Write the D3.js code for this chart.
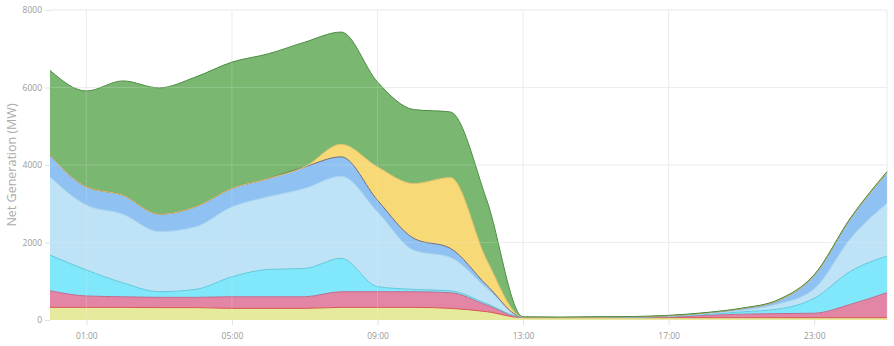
<!DOCTYPE html>
<html><head><meta charset="utf-8">
<script src="https://cdn.jsdelivr.net/npm/d3@7/dist/d3.min.js"></script>
<style>body{margin:0;background:#fff} svg{display:block}</style>
</head><body><svg id="c" width="894" height="346"></svg>
<script>
// Hours of the day (x values)
const hours = [0,1,2,3,4,5,6,7,8,9,10,11,12,13,14,15,16,17,18,19,20,21,22,23];
// Series values (MW), bottom to top
const seriesNames = ["base","pink","cyan","lightblue","midblue","solar","green"];
const base      = [326,326,326,320,320,300,300,300,326,326,326,300,215,60,60,60,60,60,60,60,60,60,60,60];
const pink      = [429,294,274,265,265,300,300,300,404,404,404,405,170,10,5,5,10,20,60,90,105,115,345,645];
const cyan      = [920,670,360,145,205,515,705,730,860,130,60,50,35,0,0,5,5,10,20,60,115,385,855,945];
const lightblue = [2015,1675,1770,1550,1615,1805,1875,2065,2120,1930,1010,860,405,0,0,0,5,10,20,40,130,240,845,1360];
const midblue   = [560,470,490,450,515,475,470,555,500,300,305,235,75,0,0,5,5,10,20,45,90,350,515,790];
const solar     = [0,0,0,0,0,0,0,0,325,860,1415,1825,650,0,0,0,0,0,0,0,0,0,0,0];
const green     = [2190,2475,2950,3260,3350,3260,3220,3220,2895,2190,1910,1695,1550,10,10,10,5,10,10,10,20,20,20,30];
// Axis ticks
const yTicks = [0,2000,4000,6000,8000];
const xTickHours = [1,5,9,13,17,21];
const xTickLabels = ["01:00","05:00","09:00","13:00","17:00","23:00"];
const xGridHours = [1,5,9,13,17,23];

const fills   = ["#e5ea9d","#e386a5","#80e8fa","#bee3f7","#8fc1f2","#f8d978","#7ab871"];
const strokes = ["#d9574f","#c06a8c","#5fc8da","#a8d4ef","#6e6c7c","#e2c167","#4e8c45"];

const seriesVals = [base,pink,cyan,lightblue,midblue,solar,green];
const rows = hours.map((h,i)=>{const r={h}; seriesNames.forEach((n,k)=>r[n]=seriesVals[k][i]); return r;});
const stacked = d3.stack().keys(seriesNames)(rows);

const svg = d3.select("#c");
const m = {l:50, r:7, t:10, b:26};
const W = 894, H = 346;
const x = d3.scaleLinear().domain([0,23]).range([m.l, W-m.r]);
const y = d3.scaleLinear().domain([0,8000]).range([H-m.b, m.t]);

// grid behind
const grid = svg.append("g");
grid.selectAll("line.h").data(yTicks.filter(d=>d>0)).join("line")
  .attr("x1",x(0)).attr("x2",x(23)).attr("y1",d=>y(d)).attr("y2",d=>y(d))
  .attr("stroke","#ececec").attr("stroke-width",1);
grid.selectAll("line.v").data(xGridHours).join("line")
  .attr("x1",d=>x(d)).attr("x2",d=>x(d)).attr("y1",y(8000)).attr("y2",y(0))
  .attr("stroke","#ececec").attr("stroke-width",1);

const area = d3.area().curve(d3.curveMonotoneX)
  .x(d=>x(d.data.h)).y0(d=>y(d[0])).y1(d=>y(d[1]));
const line = d3.line().curve(d3.curveMonotoneX)
  .x(d=>x(d.data.h)).y(d=>y(d[1]));

svg.append("g").selectAll("path").data(stacked).join("path")
  .attr("d",area).attr("fill",(d,i)=>fills[i]);
svg.append("g").selectAll("path").data(stacked).join("path")
  .attr("d",line).attr("fill","none").attr("stroke",(d,i)=>strokes[i]).attr("stroke-width",1);

// faint grid over areas
const grid2 = svg.append("g").attr("opacity",0.18);
grid2.selectAll("line.h").data(yTicks.filter(d=>d>0)).join("line")
  .attr("x1",x(0)).attr("x2",x(23)).attr("y1",d=>y(d)).attr("y2",d=>y(d))
  .attr("stroke","#f4f4f4");
grid2.selectAll("line.v").data(xGridHours).join("line")
  .attr("x1",d=>x(d)).attr("x2",d=>x(d)).attr("y1",y(8000)).attr("y2",y(0))
  .attr("stroke","#f4f4f4");

// axes
const font = "'Open Sans', Roboto, sans-serif";
const yAxis = svg.append("g").attr("transform",`translate(${m.l},0)`)
  .call(d3.axisLeft(y).tickValues(yTicks).tickFormat(d3.format("d")).tickSize(5).tickPadding(3));
yAxis.select(".domain").remove();
yAxis.selectAll("line").attr("stroke","#e2e2e2");
yAxis.selectAll("text").attr("fill","#999").style("font-family",font).style("font-size","8.5px");

const xAxis = svg.append("g").attr("transform",`translate(0,${y(0)})`)
  .call(d3.axisBottom(x).tickValues(xTickHours).tickFormat((d,i)=>xTickLabels[i]).tickSize(5).tickPadding(8));
xAxis.select(".domain").remove();
xAxis.selectAll("line").attr("stroke","#e2e2e2");
xAxis.selectAll("text").attr("fill","#999").style("font-family",font).style("font-size","8.5px");

svg.append("text").attr("transform",`translate(16,${(y(0)+y(8000))/2}) rotate(-90)`)
  .attr("text-anchor","middle").attr("fill","#aaa")
  .style("font-family",font).style("font-size","12.5px").text("Net Generation (MW)");
</script></body></html>
